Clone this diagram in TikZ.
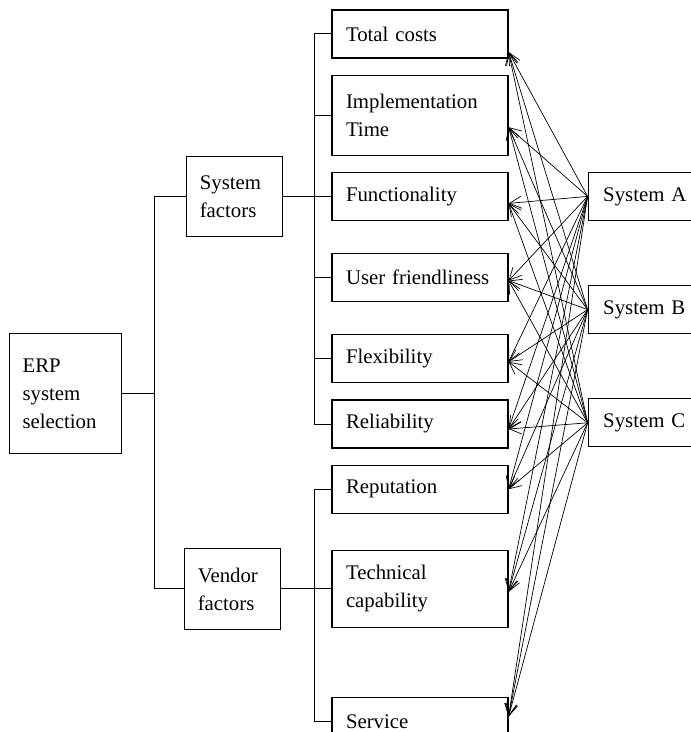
\documentclass[tikz,border=0pt]{standalone}
\usepackage{fontspec}
\setmainfont{Liberation Serif}
\usetikzlibrary{positioning,arrows.meta}

\tikzset{
  box/.style={draw, line width=0.6pt, align=left, font=\fontsize{10.4}{14}\selectfont},
  crit/.style={box, text width=74pt, inner xsep=7pt, minimum height=24pt},
  factor/.style={box, text width=35pt, inner xsep=6.5pt, minimum height=40pt},
  alt/.style={box, text width=44pt, inner xsep=7.5pt, minimum height=24pt},
  link/.style={line width=0.5pt},
  pref/.style={->, line width=0.35pt}
}

\begin{document}
\begin{tikzpicture}[>={Straight Barb[length=6pt,width=6pt]}]
    \useasboundingbox (0,0) rectangle (345pt,-366pt);

    % criteria
    \node[crit] (tc) at (210pt,-17pt) {Total costs};
    \node[crit, below=8pt of tc, minimum height=40pt] (it) {Implementation\\Time};
    \node[crit, below=8pt of it] (fn) {Functionality};
    \node[crit, below=16pt of fn] (uf) {User friendliness};
    \node[crit, below=16pt of uf] (fx) {Flexibility};
    \node[crit, below=8pt of fx] (rl) {Reliability};
    \node[crit, below=8pt of rl] (rp) {Reputation};
    \node[crit, below=18pt of rp, minimum height=38.5pt] (tcap) {Technical\\capability};
    \node[crit, below=34.5pt of tcap] (sv) {Service};

    % factors and goal
    \node[factor, left=24pt of fn] (sf) {System\\factors};
    \node[factor, left=25pt of tcap, minimum height=40.5pt] (vf) {Vendor\\factors};
    \node[factor, below left=48pt and 32pt of sf, text width=43pt, minimum height=60pt] (erp) {ERP\\system\\selection};

    % alternatives
    \node[alt, right=39.5pt of fn] (sa) {System A};
    \node[alt, below=32pt of sa] (sb) {System B};
    \node[alt, below=32pt of sb] (sc) {System C};

    % hierarchy
    \draw[link] (erp.east) -- ++(16pt,0) coordinate (j1);
    \draw[link] (sf.west) -| (j1) |- (vf.west);
    \coordinate[left=8.5pt of fn] (j2);
    \coordinate[left=8.5pt of tcap] (j3);
    \draw[link] (sf.east) -- (fn.west);
    \draw[link] (vf.east) -- (tcap.west);
    \foreach \c in {tc,it,uf,fx,rl}
        \draw[link] (\c.west) -| (j2);
    \foreach \c in {rp,sv}
        \draw[link] (\c.west) -| (j3);

    % comparisons
    \foreach \s in {sa,sb,sc}
        \foreach \c/\dy in {tc/-9pt,it/-6pt,fn/-3.5pt,uf/-1.5pt,fx/-1.5pt,rl/-2.5pt,rp/0pt,tcap/-1.5pt,sv/2.5pt}
            \draw[pref] (\s.west) -- ([yshift=\dy]\c.east);
\end{tikzpicture}
\end{document}
